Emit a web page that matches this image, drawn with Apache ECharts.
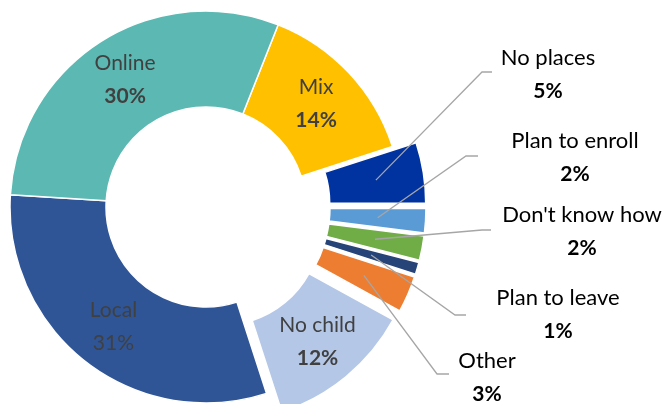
<!DOCTYPE html>
<html>
<head>
<meta charset="utf-8">
<script src="https://cdn.jsdelivr.net/npm/echarts@6/dist/echarts.min.js"></script>
<style>
  html, body { margin: 0; padding: 0; background: #fff; }
  #chart { width: 665px; height: 404px; }
</style>
</head>
<body>
<div id="chart"></div>
<script>
// Survey answers, clockwise from the top of the ring
const categories = ['Mix', 'No places', 'Plan to enroll', "Don't know how", 'Plan to leave', 'Other', 'No child', 'Local', 'Online'];
const shares = [14, 5, 2, 2, 1, 3, 12, 31, 30];
const colors = ['#FFC000', '#0033A0', '#5B9BD5', '#70AD47', '#264478', '#ED7D31', '#B4C7E7', '#2F5597', '#5CB8B2'];
// Slices pulled out of the ring
const explodedNames = ['No places', 'Plan to enroll', "Don't know how", 'Plan to leave', 'Other', 'No child'];
// Slices whose label sits outside the ring, with a callout line
const calloutNames = ['No places', 'Plan to enroll', "Don't know how", 'Plan to leave', 'Other'];

// Ring geometry (px)
const CX = 206, CY = 207, R_IN = 100, R_OUT = 196, OFFSET = 24;
const FIRST_ANGLE = 21.6; // clockwise from 12 o'clock
// Where each callout label block is centred and where its line bends
const calloutSpots = {
  'No places':       { x: 548, y: 74,  bend: [482, 72],  end: [492, 72] },
  'Plan to enroll':  { x: 575, y: 157, bend: [466, 156], end: [478, 156] },
  "Don't know how":  { x: 582, y: 231, bend: [482, 230], end: [491, 230] },
  'Plan to leave':   { x: 558, y: 314, bend: [455, 315], end: [466, 315] },
  'Other':           { x: 487, y: 377, bend: [437, 374], end: [449, 374] }
};

const FONT = 'Lato, "Open Sans", sans-serif';
const total = shares.reduce((a, b) => a + b, 0);

// Centroid of a slice (mid radius, mid angle), shifted when exploded
function sliceCentroid(i) {
  let before = 0;
  for (let k = 0; k < i; k++) before += shares[k];
  const mid = FIRST_ANGLE + (before + shares[i] / 2) / total * 360;
  const rad = mid * Math.PI / 180;
  let r = (R_IN + R_OUT) / 2;
  if (explodedNames.includes(categories[i])) r += OFFSET;
  return [CX + r * Math.sin(rad), CY - r * Math.cos(rad)];
}

const rich = {
  n: { fontFamily: FONT, fontSize: 21, color: '#404040', lineHeight: 33 },
  p: { fontFamily: FONT, fontSize: 21, fontWeight: 'bold', color: '#404040', lineHeight: 33 },
  on: { fontFamily: FONT, fontSize: 22, color: '#595959', lineHeight: 34 },
  lp: { fontFamily: FONT, fontSize: 21, color: '#404040', lineHeight: 33 }
};

const seriesData = categories.map((name, i) => {
  const item = {
    name: name,
    value: shares[i],
    selected: explodedNames.includes(name),
    itemStyle: { color: colors[i] }
  };
  if (calloutNames.includes(name)) {
    item.label = { show: false };
  } else if (name === 'Local') {
    item.label = { formatter: '{n|{b}}\n{lp|{c}%}' };
  }
  return item;
});

// Callout lines and labels for the thin slices
const callouts = [];
categories.forEach((name, i) => {
  const spot = calloutSpots[name];
  if (!spot) return;
  callouts.push({
    type: 'polyline',
    z: 100,
    silent: true,
    shape: { points: [sliceCentroid(i), spot.bend, spot.end] },
    style: { stroke: '#A6A6A6', lineWidth: 1.3, fill: null }
  });
  callouts.push({
    type: 'text',
    z: 100,
    silent: true,
    x: spot.x,
    y: spot.y,
    style: {
      text: '{on|' + name + '}\n{p|' + shares[i] + '%}',
      rich: rich,
      align: 'center',
      verticalAlign: 'middle'
    }
  });
});

const chart = echarts.init(document.getElementById('chart'), null, { renderer: 'canvas' });
chart.setOption({
  animation: false,
  backgroundColor: '#ffffff',
  graphic: callouts,
  series: [{
    type: 'pie',
    center: [CX, CY],
    radius: [R_IN, R_OUT],
    startAngle: 90 - FIRST_ANGLE,
    clockwise: true,
    selectedMode: 'multiple',
    selectedOffset: OFFSET,
    avoidLabelOverlap: false,
    emphasis: { scale: false, disabled: true },
    itemStyle: { borderColor: '#ffffff', borderWidth: 1.5 },
    label: {
      show: true,
      position: 'inside',
      formatter: '{n|{b}}\n{p|{c}%}',
      rich: rich,
      align: 'center'
    },
    labelLine: { show: false },
    data: seriesData
  }]
});
</script>
</body>
</html>
